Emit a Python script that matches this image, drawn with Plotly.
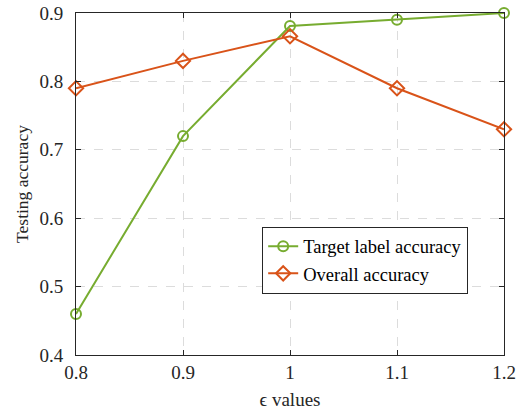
import plotly.graph_objects as go

eps = [0.8, 0.9, 1.0, 1.1, 1.2]
target_acc = [0.46, 0.72, 0.881, 0.89, 0.90]
overall_acc = [0.79, 0.83, 0.866, 0.79, 0.73]
x_ticks = [0.8, 0.9, 1.0, 1.1, 1.2]
x_ticklabels = ["0.8", "0.9", "1", "1.1", "1.2"]
y_ticks = [0.4, 0.5, 0.6, 0.7, 0.8, 0.9]

fig = go.Figure()
fig.add_trace(go.Scatter(
    x=eps, y=target_acc, mode="lines+markers", name="Target label accuracy",
    line=dict(color="#77AC30", width=2),
    marker=dict(symbol="circle-open", size=10, color="#77AC30", line=dict(width=2)),
    cliponaxis=False,
))
fig.add_trace(go.Scatter(
    x=eps, y=overall_acc, mode="lines+markers", name="Overall accuracy",
    line=dict(color="#D95319", width=2),
    marker=dict(symbol="diamond-open", size=11, color="#D95319", line=dict(width=2)),
    cliponaxis=False,
))

axis_common = dict(
    showline=True, linecolor="#262626", linewidth=1, mirror="allticks",
    ticks="inside", ticklen=5, tickcolor="#262626",
    showgrid=True, gridcolor="#DCDCDC", griddash="dash", gridwidth=1,
    zeroline=False, automargin=False,
    tickfont=dict(family="Liberation Serif", size=19, color="#262626"),
)

fig.update_layout(
    width=519, height=412,
    margin=dict(l=76, r=15, t=13, b=57),
    paper_bgcolor="white", plot_bgcolor="white",
    font=dict(family="Liberation Serif", size=18, color="#262626"),
    xaxis=dict(range=[0.8, 1.2], tickvals=x_ticks, ticktext=x_ticklabels,
               title=dict(text="ϵ values", standoff=10,
                          font=dict(family="Liberation Serif", size=19)),
               **axis_common),
    yaxis=dict(range=[0.4, 0.9], tickvals=y_ticks, ticktext=[f"{v:.1f}" for v in y_ticks],
               ticklabelstandoff=8,
               title=dict(text="Testing accuracy", standoff=6,
                          font=dict(family="Liberation Serif", size=17.5)),
               **axis_common),
    legend=dict(x=0.435, y=0.375, xanchor="left", yanchor="top",
                bgcolor="white", bordercolor="#262626", borderwidth=1,
                font=dict(family="Liberation Serif", size=18.5, color="black"),
                tracegroupgap=0, itemwidth=30),
    showlegend=True,
)

# remove the browser's default 8px body margin so the figure sits at (0, 0)
fig.write_html("out.html", config={"displayModeBar": False},
               post_script="document.body.style.margin='0px';")
